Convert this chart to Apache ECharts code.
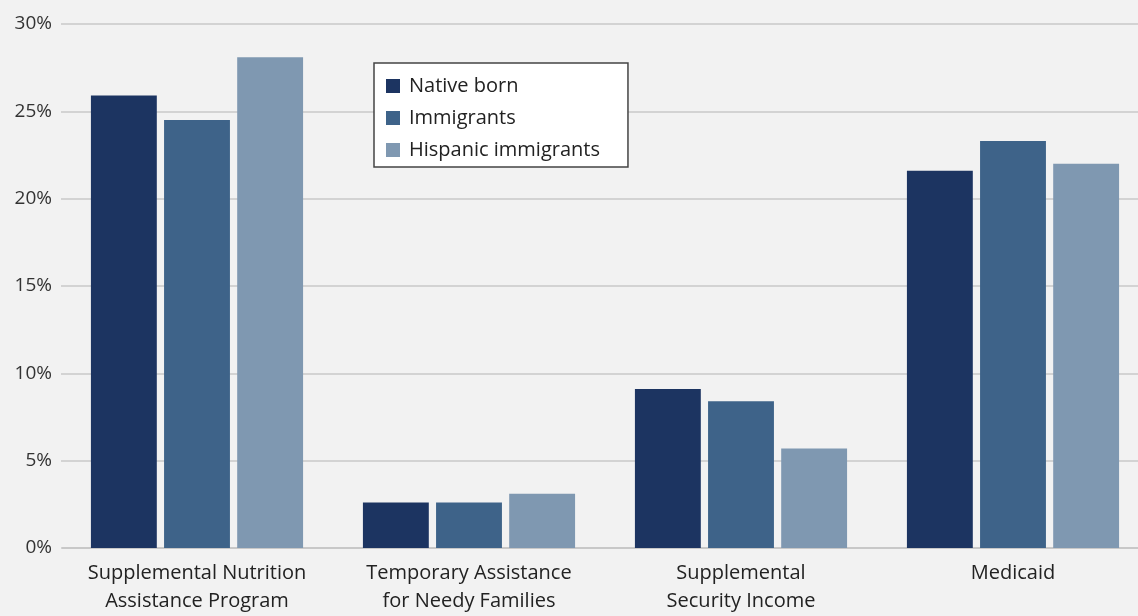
<!DOCTYPE html>
<html><head><meta charset="utf-8">
<script src="https://cdn.jsdelivr.net/npm/echarts@6/dist/echarts.min.js"></script>
<style>html,body{margin:0;padding:0;background:#f2f2f2;overflow:hidden;width:1138px;height:616px;}#c{width:1149px;height:616px;}</style>
</head><body><div id="c"></div>
<script>
const categories = ["Supplemental Nutrition\nAssistance Program", "Temporary Assistance\nfor Needy Families", "Supplemental\nSecurity Income", "Medicaid"];
const nativeBorn = [25.9, 2.6, 9.1, 21.6];
const immigrants = [24.5, 2.6, 8.4, 23.3];
const hispanicImmigrants = [28.1, 3.1, 5.7, 22.0];
const seriesNames = ["Native born", "Immigrants", "Hispanic immigrants"];
const colors = ["#1c3461", "#3e6389", "#7f98b1"];
const font = "'Open Sans', 'Noto Sans', sans-serif";
const chart = echarts.init(document.getElementById('c'));
const data = [nativeBorn, immigrants, hispanicImmigrants];
chart.setOption({
  backgroundColor: '#f2f2f2',
  animation: false,
  grid: {left: 61, right: 0, top: 24, bottom: 68},
  graphic: [{type: 'line', shape: {x1: 62, y1: 548, x2: 1149, y2: 548}, style: {stroke: '#c8c8c8', lineWidth: 2}}],
  legend: {
    left: 374, top: 63, orient: 'vertical',
    backgroundColor: '#ffffff', borderColor: '#444', borderWidth: 1.5,
    padding: [13, 28, 7, 12], itemGap: 12, itemWidth: 14, itemHeight: 14,
    icon: 'rect',
    textStyle: {fontFamily: font, fontSize: 20, color: '#222', padding: [0, 0, 0, 4]},
    data: seriesNames
  },
  xAxis: {
    type: 'category', data: categories,
    axisLine: {show: false},
    axisTick: {show: false},
    axisLabel: {fontFamily: font, fontSize: 20, color: '#222', lineHeight: 28, margin: 11, interval: 0}
  },
  yAxis: {
    type: 'value', min: 0, max: 30, interval: 5,
    axisLabel: {formatter: '{value}%', fontFamily: font, fontSize: 19, color: '#333', margin: 9},
    axisLine: {show: false}, axisTick: {show: false},
    splitLine: {lineStyle: {color: '#c8c8c8', width: 1.5}}
  },
  series: data.map((d, i) => ({
    name: seriesNames[i], type: 'bar', data: d,
    barGap: '11%', barCategoryGap: '22%',
    itemStyle: {color: colors[i]}
  }))
});
</script></body></html>
